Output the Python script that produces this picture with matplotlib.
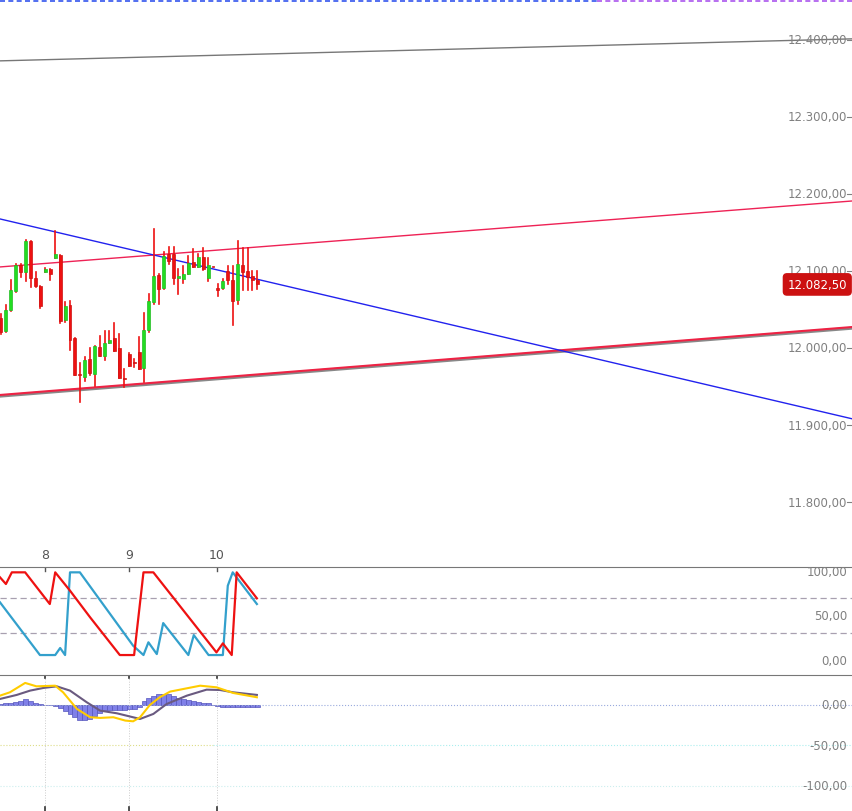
import matplotlib
matplotlib.use("Agg")
import matplotlib.pyplot as plt

# candle OHLC (price)
opens = [12038.9, 12022.0, 12049.7, 12073.5, 12107.8, 12098.2, 12139.0, 12090.4, 12080.0, 12098.2,
         12102.6, 12116.4, 12120.7, 12036.7, 12055.8, 12012.9, 11966.2, 11961.8, 11985.6, 11966.2,
         12001.2, 11989.1, 12006.9, 12012.9, 11999.9, 11960.5, 11992.2, 11980.5, 11994.3, 11973.5,
         12023.7, 12060.1, 12094.8, 12077.4, 12122.0, 12122.0, 12090.4, 12089.6, 12096.1, 12111.2,
         12105.6, 12117.7, 12090.4, 12105.6, 12077.4, 12077.4, 12099.5, 12088.7, 12062.7, 12107.8,
         12099.5, 12093.0, 12088.7]
highs = [12044.1, 12055.8, 12088.3, 12109.1, 12109.1, 12140.7, 12139.0, 12098.2, 12080.0, 12103.9,
         12102.6, 12152.3, 12120.7, 12059.3, 12061.0, 12012.9, 11980.4, 11987.8, 11999.5, 12002.5,
         12015.1, 12021.6, 12021.6, 12032.0, 12017.7, 11972.7, 11993.0, 11985.6, 12013.8, 12045.0,
         12070.1, 12154.5, 12096.1, 12124.2, 12130.7, 12130.7, 12102.6, 12106.9, 12119.9, 12128.5,
         12122.0, 12129.4, 12116.4, 12105.6, 12083.1, 12089.6, 12106.9, 12106.9, 12139.4, 12129.4,
         12129.4, 12100.4, 12100.4]
lows = [12017.7, 12021.2, 12048.4, 12072.2, 12092.6, 12087.4, 12079.6, 12079.6, 12051.9, 12098.2,
        12088.7, 12116.4, 12032.0, 12033.3, 11997.8, 11965.3, 11930.2, 11957.5, 11965.3, 11951.0,
        11990.0, 11984.8, 12006.4, 11996.5, 11961.4, 11948.9, 11976.1, 11975.7, 11972.7, 11955.3,
        12020.3, 12057.1, 12057.1, 12076.6, 12109.0, 12083.5, 12070.1, 12084.4, 12096.1, 12105.6,
        12105.6, 12101.7, 12087.4, 12105.6, 12067.0, 12076.6, 12083.5, 12029.8, 12057.1, 12075.7,
        12075.3, 12075.7, 12076.6]
closes = [12021.2, 12049.3, 12075.3, 12107.8, 12098.2, 12139.0, 12091.3, 12080.0, 12054.1, 12102.6,
          12096.5, 12122.0, 12035.4, 12054.1, 12010.8, 11965.3, 11964.4, 11984.4, 11967.5, 12002.5,
          11990.0, 12006.0, 12009.9, 11996.5, 11961.4, 11959.7, 11977.0, 11980.0, 11972.7, 12023.3,
          12060.6, 12093.0, 12076.6, 12119.9, 12113.4, 12091.3, 12093.9, 12096.1, 12109.9, 12105.6,
          12118.6, 12102.6, 12107.8, 12105.0, 12075.7, 12086.5, 12088.7, 12060.6, 12109.1, 12099.1,
          12092.6, 12088.7, 12082.5]
last_price = 12082.5

# trend lines: (x0, y0, x1, y1)
XMIN, XMAX = -0.2, 172.8
gray_line = (XMIN, 12372.7, XMAX, 12401.3)
red_line = (XMIN, 12105.2, XMAX, 12190.9)
support_line = (XMIN, 11939.0, XMAX, 12027.3)
blue_line = (XMIN, 12167.5, XMAX, 11907.8)

price_ticks = [11800, 11900, 12000, 12100, 12200, 12300, 12400]
price_labels = ["11.800,00", "11.900,00", "12.000,00", "12.100,00", "12.200,00", "12.300,00", "12.400,00"]
day_pos = [8.9, 26.0, 43.8]
day_labels = ["8", "9", "10"]

# stochastic
stoch_red_x = [-0.2, 1.0, 2.2, 4.9, 9.9, 11.0, 14.0, 18.1, 24.1, 27.0, 28.9, 30.9, 43.7, 45.0, 46.8, 47.8, 51.9]
stoch_red_y = [92.9, 85.4, 98.5, 98.5, 62.9, 98.5, 77.9, 47.8, 5.6, 5.6, 98.5, 98.5, 8.6, 18.7, 5.6, 98.5, 69.3]
stoch_blue_x = [-0.2, 7.9, 11.0, 12.0, 13.0, 14.0, 16.0, 26.8, 28.9, 29.9, 31.6, 32.9, 38.0, 39.1, 42.1, 45.0, 46.0, 47.0, 51.9]
stoch_blue_y = [64.8, 5.6, 5.6, 13.5, 5.6, 98.5, 98.5, 16.1, 5.6, 19.9, 6.7, 41.5, 5.6, 28.0, 5.6, 5.6, 83.5, 98.5, 62.9]

# MACD
macd_y_x = [-0.2, 1.8, 4.9, 7.2, 11.0, 12.6, 15.4, 18.1, 20.1, 22.8, 25.2, 26.8, 28.2, 30.2, 32.2, 34.3, 40.4, 43.7, 47.1, 51.9]
macd_y_y = [11.5, 15.6, 27.2, 23.0, 23.8, 15.6, -4.9, -15.2, -16.0, -15.2, -19.3, -20.2, -15.2, 0.0, 9.5, 16.5, 23.8, 21.8, 14.8, 9.5]
macd_g_x = [-0.2, 3.2, 5.9, 8.6, 11.3, 14.0, 17.4, 20.1, 23.5, 28.2, 30.9, 33.6, 37.7, 41.7, 44.4, 47.1, 51.9]
macd_g_y = [7.4, 12.4, 17.7, 21.0, 23.0, 17.7, 3.3, -7.0, -10.3, -17.3, -11.1, 1.2, 11.5, 18.9, 18.5, 15.6, 12.4]
macd_hist = [1, 2, 3, 4, 5, 7, 5, 3, 1, 0.5, 0.5, -1, -4, -7, -11, -15, -18, -18, -17, -14,
             -10, -6, -6, -6, -6, -6, -5, -5, -3, 5, 8, 11, 13, 14, 13, 11, 9, 7, 6, 5,
             4, 3, 2, 0.5, -1, -2, -2.5, -3, -3, -3, -3, -3, -3]

W, H = 853, 812
fig = plt.figure(figsize=(W / 100, H / 100), dpi=100)
ax = fig.add_axes([0, 245 / H, 1, 567 / H])
ax2 = fig.add_axes([0, 137 / H, 1, 107 / H])
ax3 = fig.add_axes([0, 0, 1, 136 / H])
for a in (ax, ax2, ax3):
    a.set_xlim(XMIN, XMAX)
    a.set_xticks([])
    a.set_yticks([])
    for s in a.spines.values():
        s.set_visible(False)
for a in (ax2, ax3):
    a.spines["top"].set_visible(True)
    a.spines["top"].set_color("#777")

grey = "#808080"

# main panel
ax.set_ylim(11717, 12453)
ax.axhline(12451, color="#3355ee", lw=1.2, ls=(0, (3, 2)), xmax=0.7)
ax.axhline(12451, color="#aa55ee", lw=1.2, ls=(0, (3, 2)), xmin=0.7)
ax.plot(gray_line[::2], gray_line[1::2], color="#777", lw=1)
ax.plot(red_line[::2], red_line[1::2], color="#ee2255", lw=1)
ax.plot(support_line[::2], [v - 1.5 for v in support_line[1::2]], color="#888", lw=2.2)
ax.plot(support_line[::2], support_line[1::2], color="#ee2244", lw=1.5)
ax.plot(blue_line[::2], blue_line[1::2], color="#2222ee", lw=1)

for i, (o, h, l, c) in enumerate(zip(opens, highs, lows, closes)):
    col = "#22dd22" if c > o else "#ee1111"
    ax.plot([i, i], [l, h], color="#ee1111", lw=1.2, zorder=3)
    ax.bar(i, max(abs(c - o), 1.2), bottom=min(o, c), width=0.6, color=col,
           edgecolor="#cc1111" if c <= o else "#22bb22", lw=0.5, zorder=4)

for v, s in zip(price_ticks, price_labels):
    ax.text(0.993, v, s, transform=ax.get_yaxis_transform(), ha="right", va="center",
            fontsize=8.5, color=grey)
    ax.plot([0.993, 1.0], [v, v], transform=ax.get_yaxis_transform(), color=grey, lw=0.8)
ax.text(0.993, last_price, "12.082,50",
        transform=ax.get_yaxis_transform(), ha="right", va="center", fontsize=8.5, color="white",
        bbox=dict(boxstyle="round,pad=0.35,rounding_size=0.3", fc="#cc1111", ec="#cc1111"), zorder=6)
for p, s in zip(day_pos, day_labels):
    ax.text(p, 11732, s, ha="center", va="center", fontsize=9, color="#555")

# stochastic
ax2.set_ylim(-15.7, 104.5)
for v in (70, 30):
    ax2.axhline(v, color="#a8a0b0", lw=0.9, ls=(0, (5, 3)))
ax2.plot(stoch_blue_x, stoch_blue_y, color="#33a0cc", lw=1.6)
ax2.plot(stoch_red_x, stoch_red_y, color="#ee1111", lw=1.6)
for v, s in zip([100, 50, 0], ["100,00", "50,00", "0,00"]):
    ax2.text(0.993, v, s, transform=ax2.get_yaxis_transform(), ha="right", va="center", fontsize=8.5, color=grey)
for p in day_pos:
    ax2.plot([p, p], [100, 104.5], color="#555", lw=1)

# MACD
ax3.set_ylim(-131, 37)
ax3.axhline(0, color="#99aadd", lw=0.8, ls=":")
ax3.axhline(-50, color="#dddd88", lw=0.8, ls=":", xmax=0.25)
ax3.axhline(-50, color="#aaeeee", lw=0.8, ls=":", xmin=0.25)
ax3.axhline(-100, color="#cceeee", lw=0.8, ls=":")
for p in day_pos:
    ax3.axvline(p, color="#ccc", lw=0.7, ls=":")
    ax3.plot([p, p], [-131, -126], color="#333", lw=1.2)
    ax3.plot([p, p], [33, 37], color="#333", lw=1.2)
ax3.bar(range(len(macd_hist)), macd_hist, width=1.0, color="#8080e8", edgecolor="#5555bb", lw=0.5)
ax3.plot(macd_g_x, macd_g_y, color="#6a5a80", lw=1.5)
ax3.plot(macd_y_x, macd_y_y, color="#ffcc00", lw=1.5)
for v, s in zip([0, -50, -100], ["0,00", "-50,00", "-100,00"]):
    ax3.text(0.993, v, s, transform=ax3.get_yaxis_transform(), ha="right", va="center", fontsize=8.5, color=grey)

fig.savefig("out.png", dpi=100)
